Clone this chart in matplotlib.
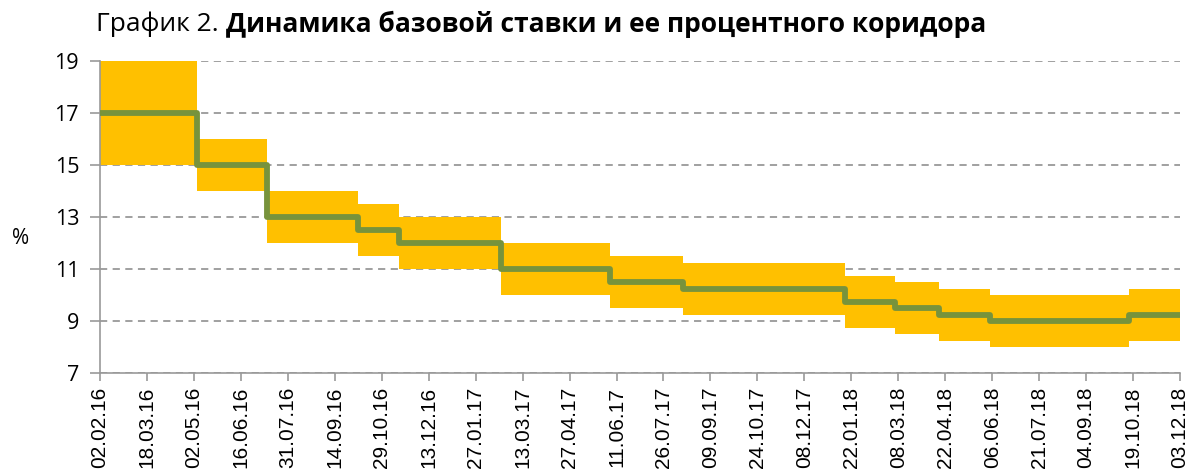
import numpy as np
import matplotlib.pyplot as plt
import matplotlib.dates as mdates
import pandas as pd

# decision dates and base rate, corridor bounds
change_dates = ['2016-02-02', '2016-05-05', '2016-07-11', '2016-10-06', '2016-11-15',
                '2017-02-20', '2017-06-05', '2017-08-14', '2018-01-16', '2018-03-05',
                '2018-04-16', '2018-06-04', '2018-10-15', '2018-12-03']
base_rate = [17.0, 15.0, 13.0, 12.5, 12.0, 11.0, 10.5, 10.25, 9.75, 9.5, 9.25, 9.0, 9.25, 9.25]
upper = [19.0, 16.0, 14.0, 13.5, 13.0, 12.0, 11.5, 11.25, 10.75, 10.5, 10.25, 10.0, 10.25, 10.25]
lower = [15.0, 14.0, 12.0, 11.5, 11.0, 10.0, 9.5, 9.25, 8.75, 8.5, 8.25, 8.0, 8.25, 8.25]

tick_start = '2016-02-02'
tick_step_days = 45
n_ticks = 24
y_ticks = [7, 9, 11, 13, 15, 17, 19]

dates = pd.to_datetime(change_dates)
x = mdates.date2num(dates)
ticks = mdates.date2num(pd.date_range(tick_start, periods=n_ticks, freq=f'{tick_step_days}D'))

fig = plt.figure(figsize=(11.9, 4.74), dpi=100)
ax = fig.add_axes([100 / 1190, 1 - 373 / 474, 1080 / 1190, 312 / 474])

ax.fill_between(x, lower, upper, step='post', color='#FFC000', linewidth=0, zorder=2)
ax.step(x, base_rate, where='post', color='#77933C', linewidth=4.2, zorder=3,
        solid_joinstyle='round', solid_capstyle='round')

ax.set_xlim(ticks[0], ticks[-1])
ax.set_ylim(7, 19)
ax.set_yticks(y_ticks)
ax.set_xticks(ticks)
ax.set_xticklabels([mdates.num2date(t).strftime('%d.%m.%y') for t in ticks],
                   rotation=90, fontsize=15, family='Liberation Sans')
ax.tick_params(axis='y', labelsize=15.5, length=7, color='#999999', width=1.2, pad=8)
ax.tick_params(axis='x', length=6, color='#999999', width=1.2, pad=4)
for lab in ax.get_yticklabels():
    lab.set_family('Open Sans')

ax.yaxis.grid(True, linestyle=(0, (4, 3)), color='#999999', linewidth=1.3, zorder=1)
ax.set_axisbelow(True)
for s in ['top', 'right']:
    ax.spines[s].set_visible(False)
for s in ['left', 'bottom']:
    ax.spines[s].set_color('#999999')
    ax.spines[s].set_linewidth(1.2)

fig.text(12 / 1190, 1 - 238 / 474, '%', fontsize=15, family='Open Sans', va='center')

t1 = fig.text(96 / 1190, 1 - 24 / 474, 'График 2.', fontsize=19, family='Open Sans',
              va='center')
fig.canvas.draw()
bb = t1.get_window_extent()
fig.text((bb.x1 + 7) / 1190, 1 - 24 / 474, 'Динамика базовой ставки и ее процентного коридора',
         fontsize=19, family='Open Sans', fontweight='bold', va='center')

fig.savefig('out.png', dpi=100)
